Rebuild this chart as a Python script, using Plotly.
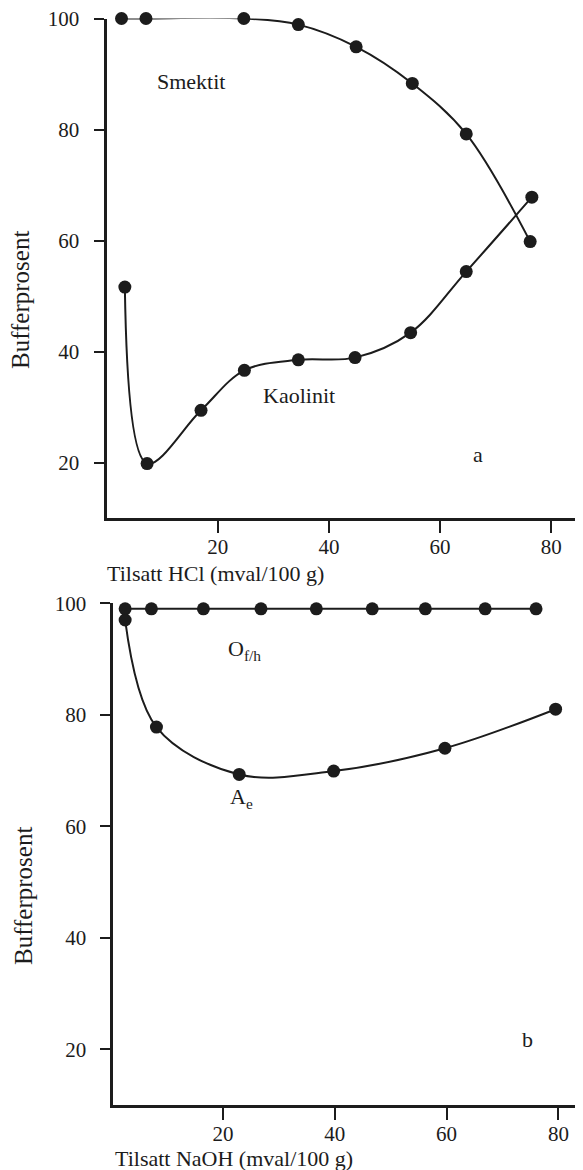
import plotly.graph_objects as go

# ---- data (panel a: HCl) ----
smektit_x = [2.7, 7.1, 24.7, 34.5, 44.9, 55.0, 64.7, 76.2]
smektit_y = [100.0, 100.0, 100.0, 98.9, 94.9, 88.3, 79.2, 59.8]
kaolinit_x = [3.3, 7.3, 17.0, 24.8, 34.5, 44.7, 54.7, 64.7, 76.5]
kaolinit_y = [51.6, 19.8, 29.4, 36.6, 38.5, 38.9, 43.4, 54.4, 67.8]

# ---- data (panel b: NaOH) ----
ofh_x = [2.5, 7.2, 16.5, 26.8, 36.7, 46.7, 56.2, 66.9, 76.0]
ofh_y = [99.0, 99.0, 99.0, 99.0, 99.0, 99.0, 99.0, 99.0, 99.0]
ae_x = [2.5, 8.1, 22.9, 39.8, 59.7, 79.5]
ae_y = [97.0, 77.8, 69.3, 69.9, 74.0, 81.0]

y_ticks = [20, 40, 60, 80, 100]
x_ticks = [20, 40, 60, 80]
y_title = "Bufferprosent"
xa_title = "Tilsatt HCl (mval/100 g)"
xb_title = "Tilsatt NaOH (mval/100 g)"

# the page body has an 8px margin: size the figure so it fills the window
OFF = 8
W, H = 583 - OFF, 1170 - OFF
INK = "#1c1c1c"
FONT = "Liberation Serif, Times New Roman, serif"

fig = go.Figure()

def add_series(xs, ys, xa, ya):
    fig.add_trace(go.Scatter(
        x=xs, y=ys, xaxis=xa, yaxis=ya, mode="lines+markers",
        line=dict(color=INK, width=2, shape="spline", smoothing=1.0),
        marker=dict(color=INK, size=13),
        cliponaxis=False, showlegend=False, hoverinfo="x+y"))

add_series(smektit_x, smektit_y, "x", "y")
add_series(kaolinit_x, kaolinit_y, "x", "y")
add_series(ofh_x, ofh_y, "x2", "y2")
add_series(ae_x, ae_y, "x2", "y2")

def px_x(p):
    return (p - OFF) / W

def px_y(p):
    return 1 - (p - OFF) / H

axis_common = dict(
    showline=True, linecolor=INK, linewidth=3, showgrid=False, zeroline=False,
    ticks="outside", tickwidth=2, tickcolor=INK, automargin=False,
    ticklabeloverflow="allow",
    tickfont=dict(family=FONT, size=21, color=INK), fixedrange=True,
)
x_common = dict(ticklen=12, ticklabelstandoff=-4, **axis_common)
y_common = dict(ticklen=10, ticklabelstandoff=10, **axis_common)

fig.update_layout(
    width=W, height=H,
    margin=dict(l=0, r=0, t=0, b=0, pad=0),
    paper_bgcolor="white", plot_bgcolor="white",
    font=dict(family=FONT, color=INK),
    xaxis=dict(domain=[px_x(106.5), 1], range=[0, 85.7], tickvals=x_ticks,
               anchor="y", **x_common),
    yaxis=dict(domain=[px_y(518), px_y(18.5)], range=[10, 100], tickvals=y_ticks,
               anchor="x", **y_common),
    xaxis2=dict(domain=[px_x(113.4), 1], range=[0.4, 84.4], tickvals=x_ticks,
                anchor="y2", **x_common),
    yaxis2=dict(domain=[px_y(1105), px_y(603.3)], range=[10, 100], tickvals=y_ticks,
                anchor="x2", **y_common),
)

ann_font = dict(family=FONT, size=22, color=INK)
title_font = dict(family=FONT, size=22, color=INK)
ytitle_font = dict(family=FONT, size=25, color=INK)

annotations = [
    # in-plot labels
    dict(text="Smektit", x=15.2, y=88.7, xref="x", yref="y"),
    dict(text="Kaolinit", x=34.7, y=32.0, xref="x", yref="y"),
    dict(text="a", x=66.8, y=21.5, xref="x", yref="y"),
    dict(text="O<sub>f/h</sub>", x=23.9, y=91.7, xref="x2", yref="y2"),
    dict(text="A<sub>e</sub>", x=23.4, y=65.1, xref="x2", yref="y2"),
    dict(text="b", x=74.4, y=21.8, xref="x2", yref="y2"),
]
for a in annotations:
    fig.add_annotation(showarrow=False, xanchor="center", yanchor="middle",
                       font=ann_font, **a)

# axis titles
fig.add_annotation(text=y_title, x=px_x(21), y=px_y(300), xref="paper", yref="paper",
                   textangle=-90, showarrow=False, xanchor="center", yanchor="middle",
                   font=ytitle_font)
fig.add_annotation(text=y_title, x=px_x(23), y=px_y(896), xref="paper", yref="paper",
                   textangle=-90, showarrow=False, xanchor="center", yanchor="middle",
                   font=ytitle_font)
fig.add_annotation(text=xa_title, x=px_x(105), y=px_y(573), xref="paper", yref="paper",
                   showarrow=False, xanchor="left", yanchor="middle", font=title_font)
fig.add_annotation(text=xb_title, x=px_x(113), y=px_y(1158), xref="paper", yref="paper",
                   showarrow=False, xanchor="left", yanchor="middle", font=title_font)

fig.write_html("out.html")
